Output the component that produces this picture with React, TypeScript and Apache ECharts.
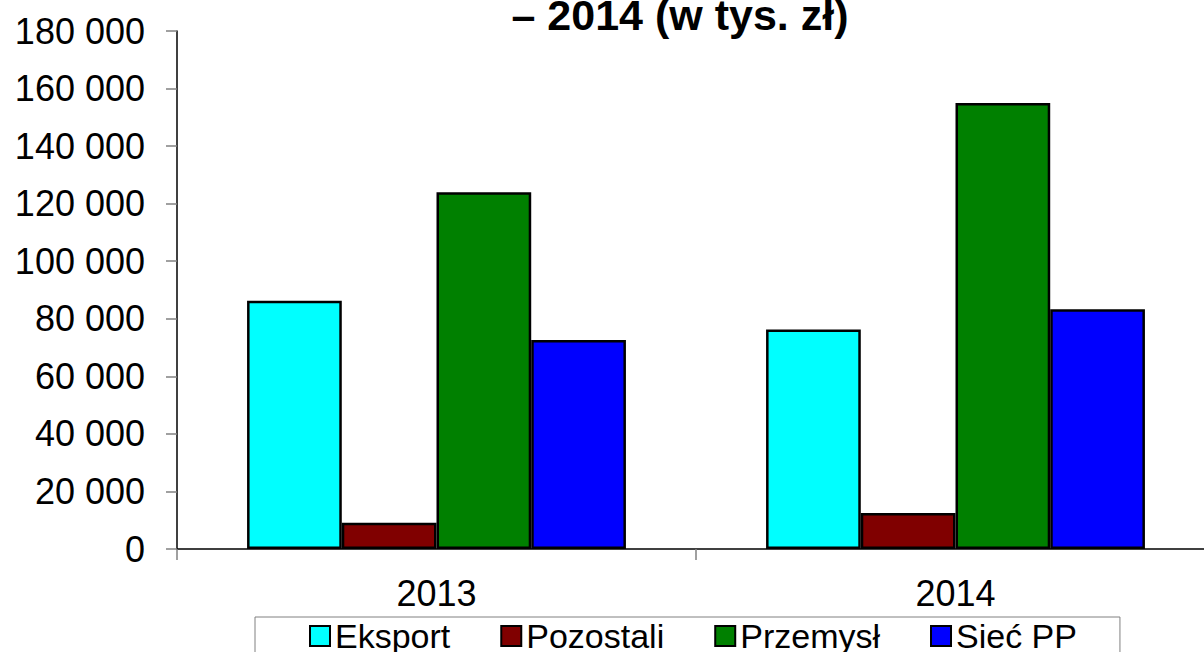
import React, { useEffect, useRef } from "react";
import * as echarts from "echarts";

const categories = ["2013", "2014"];
const eksport = [86300, 76300];
const pozostali = [9100, 12500];
const przemysl = [124000, 155000];
const siecPP = [72600, 83300];
const seriesNames = ["Eksport", "Pozostali", "Przemysł", "Sieć PP"];
const seriesColors = ["#00FFFF", "#800000", "#008000", "#0000FF"];
const titleText = "– 2014 (w tys. zł)";

const FONT = "'Liberation Sans', Arial, sans-serif";

export default function App() {
  const ref = useRef<HTMLDivElement>(null);
  useEffect(() => {
    if (!ref.current) return;
    const chart = echarts.init(ref.current, null, { renderer: "svg" });
    const data = [eksport, pozostali, przemysl, siecPP];
    chart.setOption({
      animation: false,
      backgroundColor: "#ffffff",
      textStyle: { fontFamily: FONT },
      graphic: [
        {
          type: "text",
          x: 680,
          y: 15,
          style: {
            text: titleText,
            fontFamily: FONT,
            fontSize: 43,
            fontWeight: "bold",
            fill: "#000",
            align: "center",
            verticalAlign: "middle",
          },
        },
      ],
      grid: {
        left: 177,
        width: 1038,
        top: 31,
        bottom: 103,
        containLabel: false,
        outerBoundsMode: "none",
      },
      legend: {
        data: seriesNames,
        left: 255,
        top: 617,
        padding: [2, 43, 10, 54],
        itemGap: 50,
        itemWidth: 20,
        itemHeight: 20,
        icon: "rect",
        borderColor: "#808080",
        borderWidth: 1,
        textStyle: { fontSize: 34, color: "#000", fontFamily: FONT },
      },
      xAxis: {
        type: "category",
        data: categories,
        axisLine: { show: true, lineStyle: { color: "#000", width: 1.5 } },
        axisTick: { show: true, length: 11, alignWithLabel: false, lineStyle: { color: "#808080", width: 1.5 } },
        axisLabel: { fontSize: 36, color: "#000", margin: 26, fontFamily: FONT },
        splitLine: { show: false },
      },
      yAxis: {
        type: "value",
        min: 0,
        max: 180000,
        interval: 20000,
        axisLine: { show: true, lineStyle: { color: "#000", width: 1.5 } },
        axisTick: { show: true, length: 11, lineStyle: { color: "#808080", width: 1.5 } },
        axisLabel: {
          fontSize: 36,
          color: "#000",
          margin: 32,
          fontFamily: FONT,
          formatter: (v: number) => String(v).replace(/\B(?=(\d{3})+(?!\d))/g, " "),
        },
        splitLine: { show: false },
      },
      series: seriesNames.map((name, i) => ({
        name,
        type: "bar",
        data: data[i],
        barGap: "0%",
        barCategoryGap: "27%",
        itemStyle: { color: seriesColors[i], borderColor: "#000", borderWidth: 2.5 },
      })),
    });
    return () => chart.dispose();
  }, []);
  return (
    <div
      ref={ref}
      style={{ position: "fixed", left: 0, top: 0, width: 1204, height: 652, background: "#fff" }}
    />
  );
}
